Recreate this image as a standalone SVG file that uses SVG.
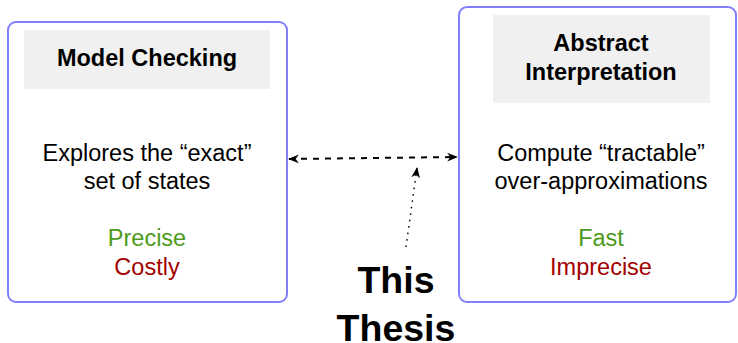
<svg xmlns="http://www.w3.org/2000/svg" width="738" height="343" viewBox="0 0 738 343">
<style>
.box{fill:#fff;stroke:#8080ff;stroke-width:2}
.hdr{fill:#f0f0f0}
text{font-family:"Liberation Sans",Arial,sans-serif;text-anchor:middle}
.t{font-size:23.5px;font-weight:bold;fill:#000}
.b{font-size:23.5px;fill:#000}
.g{font-size:23.5px;fill:#4d9a1a}
.r{font-size:23.5px;fill:#a30000}
.big{font-size:37.5px;font-weight:bold;fill:#000}
</style>
<defs>
<marker id="ah" viewBox="0 0 10 10" refX="9" refY="5" markerWidth="11" markerHeight="11" markerUnits="userSpaceOnUse" orient="auto-start-reverse">
<path d="M0,1 L10,5 L0,9 L3,5 Z" fill="#000"/>
</marker>
</defs>
<g id="mc">
<rect class="box" x="8" y="22" width="279" height="280" rx="8"/>
<rect class="hdr" x="24" y="30" width="246" height="59"/>
<text class="t" x="147" y="66">Model Checking</text>
<text class="b" x="147" y="161">Explores the “exact”</text>
<text class="b" x="147" y="189">set of states</text>
<text class="g" x="147" y="246">Precise</text>
<text class="r" x="147" y="275">Costly</text>
</g>
<g id="ai">
<rect class="box" x="459" y="7" width="277" height="295" rx="8"/>
<rect class="hdr" x="493" y="15" width="217" height="88"/>
<text class="t" x="601" y="51">Abstract</text>
<text class="t" x="601" y="80">Interpretation</text>
<text class="b" x="601" y="161">Compute “tractable”</text>
<text class="b" x="601" y="189">over-approximations</text>
<text class="g" x="601" y="246">Fast</text>
<text class="r" x="601" y="275">Imprecise</text>
</g>
<g id="thesis">
<text class="big" x="396" y="293">This</text>
<text class="big" x="396" y="341">Thesis</text>
</g>
<g id="connectors" fill="none" stroke="#000" stroke-width="2">
<path d="M289,159 L457,157" stroke-dasharray="6,6" marker-start="url(#ah)" marker-end="url(#ah)"/>
<path d="M406,247 L417,168" stroke-width="1.5" stroke-dasharray="1.5,5" marker-end="url(#ah)"/>
</g>
</svg>
